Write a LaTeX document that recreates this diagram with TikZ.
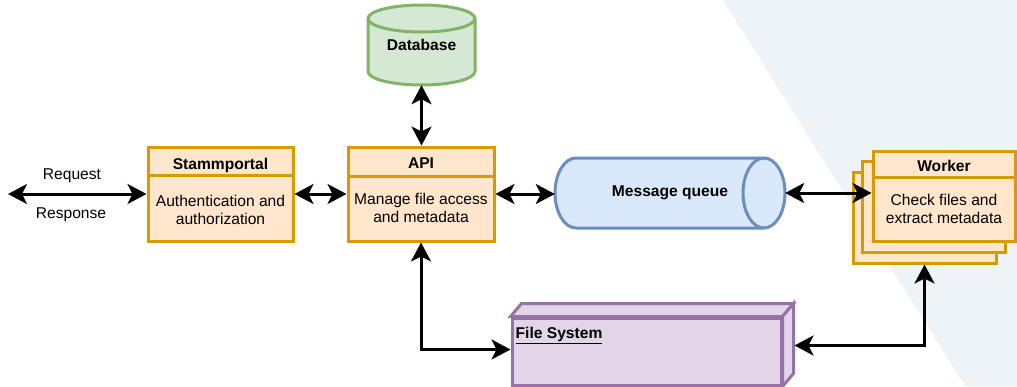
\documentclass[tikz,border=0pt]{standalone}
\usepackage{fontspec}
\setmainfont{Liberation Sans}
\usepackage{tikz}
\usetikzlibrary{arrows.meta, calc}
\usepackage{xcolor}
\definecolor{orangeline}{HTML}{D79B00}
\definecolor{orangefill}{HTML}{FFE6CC}
\definecolor{greenline}{HTML}{82B366}
\definecolor{greenfill}{HTML}{D5E8D4}
\definecolor{blueline}{HTML}{6C8EBF}
\definecolor{bluefill}{HTML}{DAE8FC}
\definecolor{purpleline}{HTML}{9673A6}
\definecolor{purplefill}{HTML}{E1D5E7}
\definecolor{panel}{HTML}{EEF3F7}
\newcommand{\diafont}{\fontsize{15.6}{18.7}\selectfont}
\tikzset{
  compbox/.style={rectangle, draw=orangeline, fill=orangefill,
                  line width=3pt, inner sep=0pt},
  divider/.style={draw=orangeline, line width=3pt},
  titletext/.style={font=\diafont\bfseries, inner sep=0pt},
  bodytext/.style={font=\diafont, align=center, inner sep=0pt},
  holder/.style={rectangle, inner sep=0pt, font=\diafont\bfseries},
  dbface/.style={draw=greenline, fill=greenfill, line width=3pt},
  queueface/.style={draw=blueline, fill=bluefill, line width=3pt},
  fsface/.style={draw=purpleline, fill=purplefill, line width=3pt,
                 line join=miter},
  link/.style={{Stealth[length=19pt, width=20pt, inset=5pt]}-{Stealth[length=19pt, width=20pt, inset=5pt]},
               line width=3pt, draw=black},
}

\begin{document}
\begin{tikzpicture}[x=1pt, y=-1pt]   %% pixel grid of the sketch

  %% ── Frame and background panel ──────────────────────────────────────────
  \useasboundingbox (0,0) rectangle (1017,386);
  \fill[panel] (723,0) -- (1017,0) -- (1017,386) -- (965,386) -- cycle;

  %% ── Stammportal ─────────────────────────────────────────────────────────
  \node[compbox, minimum width=145pt, minimum height=94pt] (stamm) at (220.5,194) {};
  \draw[divider] ([yshift=-30]stamm.north west) -- ([yshift=-30]stamm.north east);
  \node[titletext] (stammtitle) at ([yshift=-20]stamm.north) {Stammportal};
  \node[bodytext]  (stammbody)  at ([yshift=-16]stamm.center) {Authentication and\\authorization};

  %% ── API ─────────────────────────────────────────────────────────────────
  \node[compbox, minimum width=146pt, minimum height=94pt] (api) at (421,194) {};
  \draw[divider] ([yshift=-31]api.north west) -- ([yshift=-31]api.north east);
  \node[titletext] (apititle) at ([yshift=-18]api.north) {API};
  \node[bodytext]  (apibody)  at ([yshift=-14]api.center) {Manage file access\\and metadata};

  %% ── Database (cylinder) ─────────────────────────────────────────────────
  \draw[dbface] (368,18.5) -- (368,71.5) arc(180:0:53.5 and 13.5)
                -- (475,18.5) arc(0:-180:53.5 and 13.5) -- cycle;
  \draw[dbface, fill=none] (368,18.5) arc(180:0:53.5 and 13.5);
  \node[holder, minimum width=107pt, minimum height=80pt] (db) at (421.5,45) {Database};

  %% ── Message queue (lying cylinder) ──────────────────────────────────────
  \draw[queueface] (576,158) -- (764,158) arc(-90:90:21 and 35)
                   -- (576,228) arc(90:270:21 and 35) -- cycle;
  \draw[queueface, fill=none] (764,158) arc(270:90:21 and 35);
  \node[holder, minimum width=230pt, minimum height=70pt] (mq) at (670,193) {Message queue};

  %% ── Worker stack ────────────────────────────────────────────────────────
  \node[compbox, minimum width=143pt, minimum height=91pt] (wback) at (924.5,217.5) {};
  \node[compbox, minimum width=143pt, minimum height=91pt] (wmid)  at (934,206.5) {};
  \node[compbox, minimum width=142pt, minimum height=90pt] (wfront) at (944,196) {};
  \draw[divider] ([yshift=-27.5]wfront.north west) -- ([yshift=-27.5]wfront.north east);
  \node[titletext] (workertitle) at ([yshift=-16.5]wfront.north) {Worker};
  \node[bodytext]  (workerbody)  at ([yshift=-13]wfront.center) {Check files and\\extract metadata};

  %% ── File system (3D box) ────────────────────────────────────────────────
  \node[rectangle, fsface, minimum width=269pt, minimum height=67pt, inner sep=0pt] (fs) at (646.5,351.5) {};
  \draw[fsface] (fs.north west) -- ++(11,-13) -- ([xshift=11,yshift=13]fs.north east)
                -- (fs.north east) -- cycle;
  \draw[fsface] (fs.north east) -- ++(11,-13) -- ([xshift=11,yshift=13]fs.south east)
                -- (fs.south east) -- cycle;
  \node[titletext, anchor=west] (fstitle) at ([xshift=5,yshift=-19]fs.north west) {\underline{File System}};

  %% ── Connectors ──────────────────────────────────────────────────────────
  \coordinate (client) at (8,194);
  \draw[link] (client) -- (stamm.west);
  \node[bodytext] (reqlabel)  at (72,176) {Request};
  \node[bodytext] (resplabel) at (71,215) {Response};

  \draw[link] (stamm.east) -- (api.west);
  \draw[link] (db.south) -- (db.south |- api.north);
  \draw[link] (api.east) -- (api.east -| mq.west);
  \draw[link] (mq.east) -- (mq.east -| wfront.west);
  \draw[link] (api.south) |- ([yshift=2]fs.west);
  \draw[link] (wback.south) |- ([xshift=12,yshift=6]fs.east);

\end{tikzpicture}
\end{document}
